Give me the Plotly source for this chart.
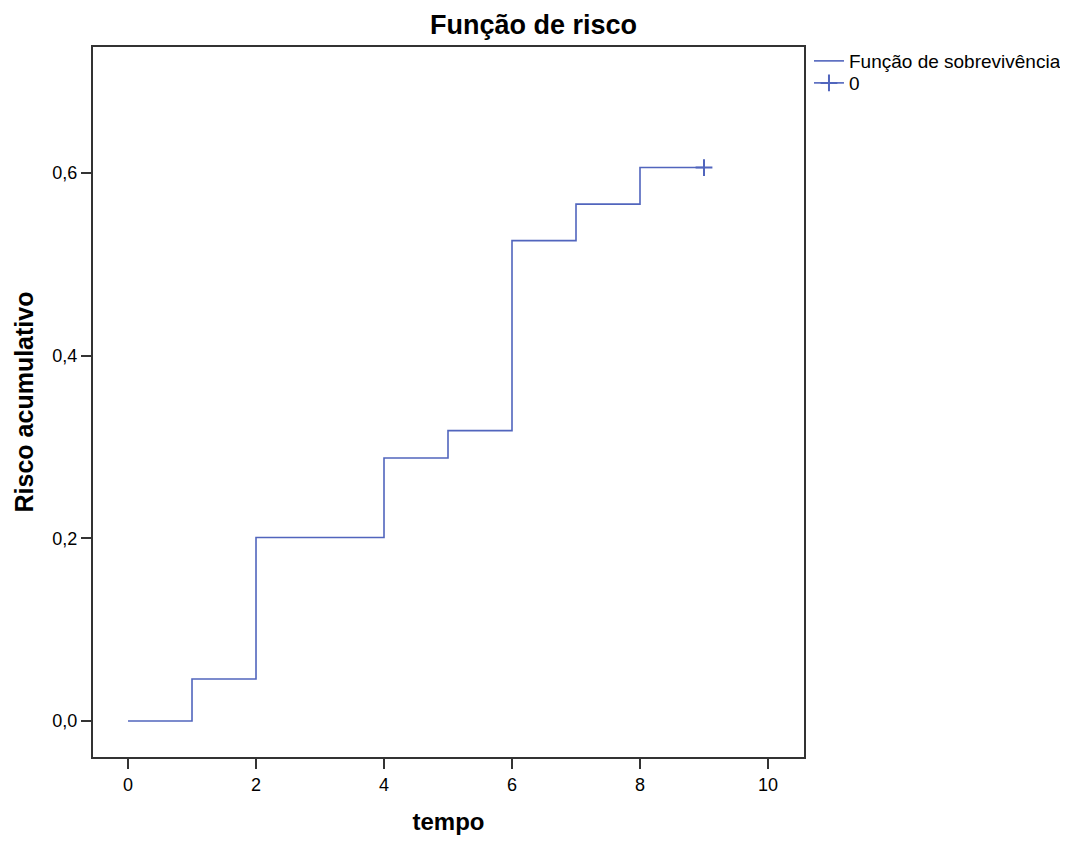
import plotly.graph_objects as go

# Data
tempo = [0, 1, 2, 4, 5, 6, 7, 8, 9]
risco = [0.0, 0.046, 0.201, 0.288, 0.318, 0.526, 0.566, 0.606, 0.606]
censor_tempo = [9]
censor_risco = [0.606]

x_ticks = [0, 2, 4, 6, 8, 10]
y_ticks = [0.0, 0.2, 0.4, 0.6]

line_color = "#5165bd"
font_family = "Liberation Sans, Arial, sans-serif"

W, H = 1060, 834
L, T = 85, 39
PW, PH = 711, 710

fig = go.Figure()
fig.add_trace(go.Scatter(
    x=tempo, y=risco, mode="lines", line_shape="hv",
    line=dict(color=line_color, width=1.6),
    name="Função de sobrevivência", legend="legend",
))
fig.add_trace(go.Scatter(
    x=censor_tempo, y=censor_risco, mode="lines+markers",
    line=dict(color=line_color, width=1.6),
    marker=dict(symbol="cross-thin-open", size=12, line=dict(color="#3f55b0", width=2)),
    name="0", legend="legend2",
))

legend_common = dict(x=0.007, xanchor="left", yanchor="top",
                     font=dict(size=19), bgcolor="rgba(0,0,0,0)",
                     tracegroupgap=0, itemwidth=30)

fig.update_layout(
    width=W, height=H,
    margin=dict(l=L, r=W - L - PW, t=T, b=H - T - PH, autoexpand=False),
    paper_bgcolor="white", plot_bgcolor="white",
    separators=", ",
    font=dict(family=font_family, size=18, color="black"),
    title=dict(text="<b>Função de risco</b>", x=525.5 / W, xanchor="center",
               y=1 - 17 / H, yanchor="middle", font=dict(size=27)),
    showlegend=True,
    legend=dict(y=1.007, **legend_common),
    legend2=dict(y=0.976, **legend_common),
)
fig.update_layout(legend_x=1.007, legend2_x=1.007)

fig.update_xaxes(
    range=[-0.547, 10.5625], tickvals=x_ticks, tickformat="d",
    showgrid=False, zeroline=False, automargin=False,
    showline=True, linecolor="#333", linewidth=2, mirror=True,
    ticks="outside", ticklen=10, tickcolor="#333", tickwidth=2,
    tickfont=dict(size=18),
    title=dict(text="<b>tempo</b>", font=dict(size=24), standoff=20),
)
fig.update_yaxes(
    range=[-0.0394, 0.738], tickvals=y_ticks, tickformat=".1f",
    showgrid=False, zeroline=False, automargin=False,
    showline=True, linecolor="#333", linewidth=2, mirror=True,
    ticks="outside", ticklen=10, tickcolor="#333", tickwidth=2,
    tickfont=dict(size=18),
    title=dict(text="<b>Risco acumulativo</b>", font=dict(size=25), standoff=12),
)

fig.write_html("out.html")
